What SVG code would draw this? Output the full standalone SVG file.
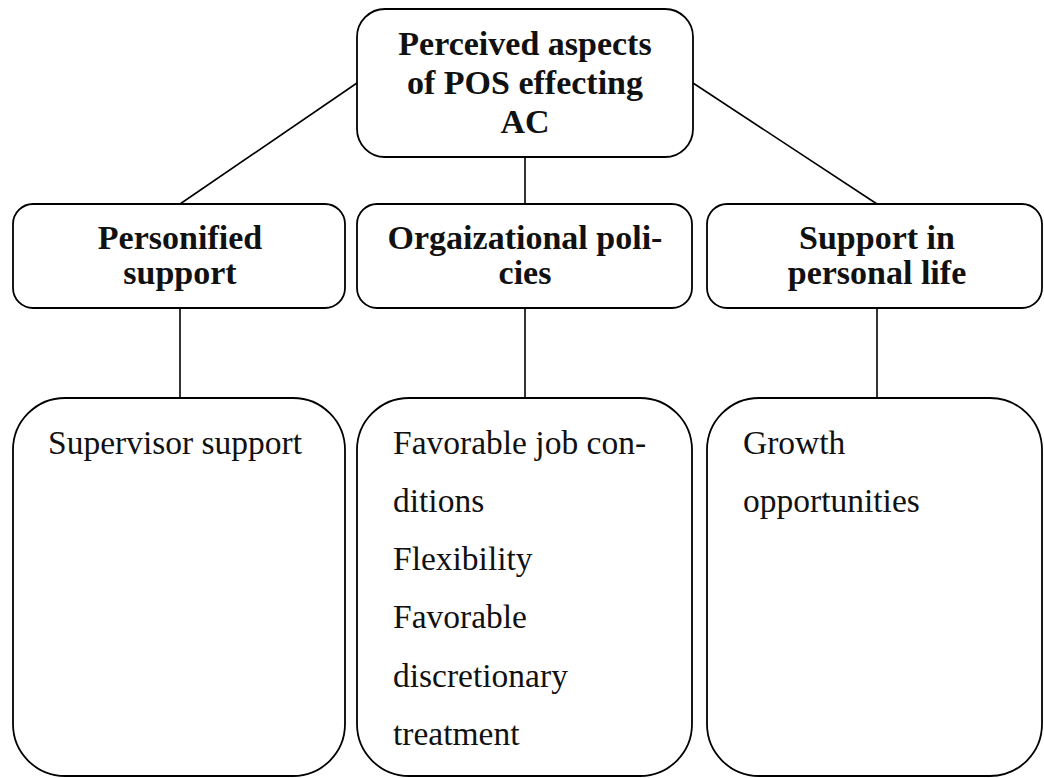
<svg xmlns="http://www.w3.org/2000/svg" width="1044" height="778" viewBox="0 0 1044 778">
<style>
.box{fill:#fff;stroke:#000;stroke-width:1.8}
.ln{stroke:#000;stroke-width:1.6;fill:none}
.b{font-family:"Liberation Serif",serif;font-weight:bold;font-size:34px;text-anchor:middle;fill:#111}
.r{font-family:"Liberation Serif",serif;font-size:33.5px;fill:#111}
</style>
<rect width="1044" height="778" fill="#fff"/>
<g id="connectors">
<line class="ln" x1="357" y1="83" x2="180" y2="204"/>
<line class="ln" x1="693" y1="83" x2="877" y2="204"/>
<line class="ln" x1="525" y1="157" x2="525" y2="204"/>
<line class="ln" x1="180" y1="308" x2="180" y2="398"/>
<line class="ln" x1="525" y1="308" x2="525" y2="398"/>
<line class="ln" x1="877" y1="308" x2="877" y2="398"/>
</g>
<g id="root">
<rect class="box" x="357" y="9" width="336" height="148" rx="28"/>
<text class="b" x="525" y="55">Perceived aspects</text>
<text class="b" x="525" y="94">of POS effecting</text>
<text class="b" x="525" y="133">AC</text>
</g>
<g id="personified">
<rect class="box" x="13" y="204" width="332" height="104" rx="20"/>
<text class="b" x="180" y="249">Personified</text>
<text class="b" x="180" y="284">support</text>
</g>
<g id="policies">
<rect class="box" x="357" y="204" width="335" height="104" rx="20"/>
<text class="b" x="525" y="249">Orgaizational poli-</text>
<text class="b" x="525" y="284">cies</text>
</g>
<g id="personal">
<rect class="box" x="707" y="204" width="335" height="104" rx="20"/>
<text class="b" x="877" y="249">Support in</text>
<text class="b" x="877" y="284">personal life</text>
</g>
<g id="supervisor">
<rect class="box" x="13" y="398" width="332" height="378" rx="52"/>
<text class="r" x="48" y="454">Supervisor support</text>
</g>
<g id="conditions">
<rect class="box" x="357" y="398" width="335" height="378" rx="52"/>
<text class="r" x="393" y="454">Favorable job con-</text>
<text class="r" x="393" y="512">ditions</text>
<text class="r" x="393" y="570">Flexibility</text>
<text class="r" x="393" y="628">Favorable</text>
<text class="r" x="393" y="687">discretionary</text>
<text class="r" x="393" y="745">treatment</text>
</g>
<g id="growth">
<rect class="box" x="707" y="398" width="335" height="378" rx="52"/>
<text class="r" x="743" y="454">Growth</text>
<text class="r" x="743" y="512">opportunities</text>
</g>
</svg>
